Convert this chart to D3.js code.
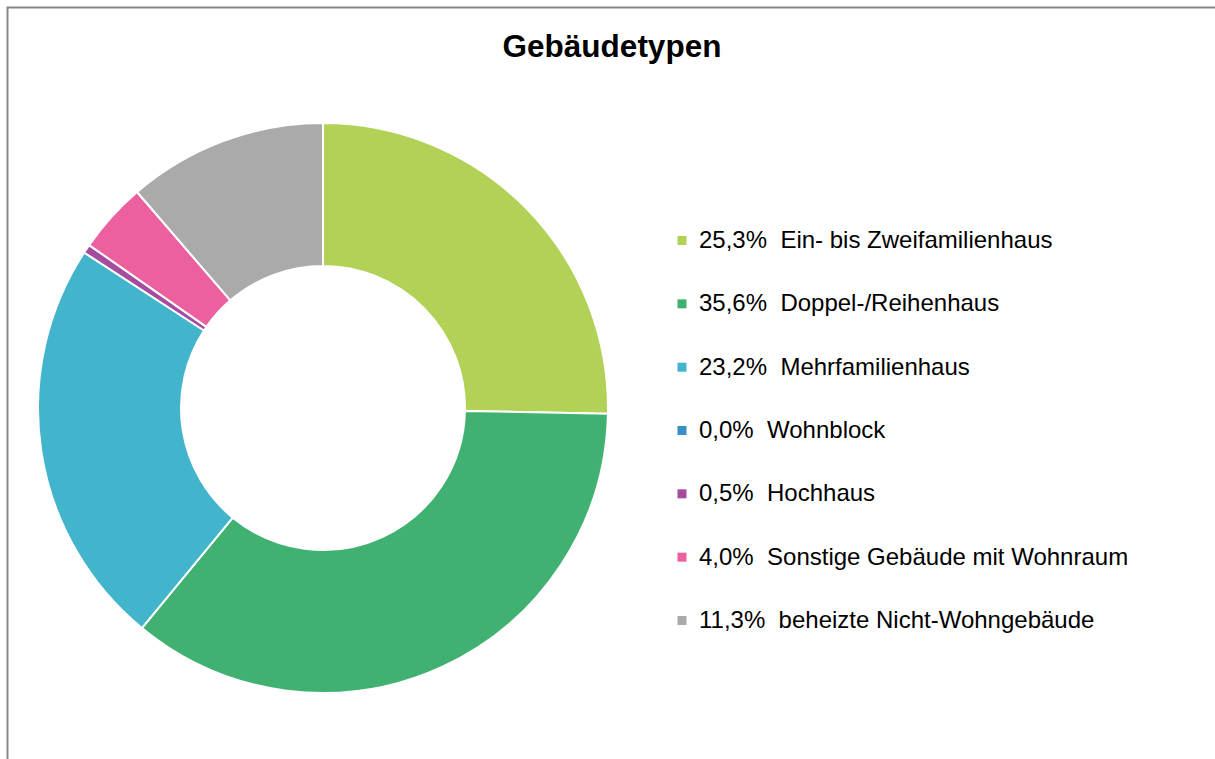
<!DOCTYPE html>
<html>
<head>
<meta charset="utf-8">
<script src="https://cdn.jsdelivr.net/npm/d3@7"></script>
<style>
  html, body { margin: 0; padding: 0; background: #fff; }
  svg { display: block; font-family: "Liberation Sans", Arial, sans-serif; }
</style>
</head>
<body>
<div id="chart"></div>
<script>
var w = 1215;
var h = 759;

// data
var categories = ["Ein- bis Zweifamilienhaus", "Doppel-/Reihenhaus", "Mehrfamilienhaus",
                  "Wohnblock", "Hochhaus", "Sonstige Gebäude mit Wohnraum", "beheizte Nicht-Wohngebäude"];
var shares = [25.3, 35.6, 23.2, 0.0, 0.5, 4.0, 11.3];
var colors = ["#b1d257", "#40b171", "#42b4cc", "#3b8fc9", "#a54c9e", "#ec609f", "#aaaaaa"];
var title = "Gebäudetypen";

var svg = d3.select("#chart")
  .append("svg")
  .attr("width", w)
  .attr("height", h);

// frame (only top and left edges visible in the crop)
svg.append("path")
  .attr("d", "M7.5," + h + "V7.5H" + w)
  .attr("fill", "none")
  .attr("stroke", "#878787")
  .attr("stroke-width", 2);

svg.append("text")
  .attr("x", 612)
  .attr("y", 57)
  .attr("text-anchor", "middle")
  .attr("font-size", 31.5)
  .attr("font-weight", "bold")
  .attr("fill", "#000")
  .text(title);

var cx = 323, cy = 408;
var outerR = 285, innerR = 142;

var pie = d3.pie().sort(null).value(function(d){ return d; });
var arc = d3.arc().innerRadius(innerR).outerRadius(outerR);

var g = svg.append("g").attr("transform", "translate(" + cx + "," + cy + ")");

g.selectAll("path")
  .data(pie(shares).filter(function(d){ return d.value > 0; }))
  .enter()
  .append("path")
  .attr("d", arc)
  .attr("fill", function(d){ return colors[d.index]; })
  .attr("stroke", "#fff")
  .attr("stroke-width", 2)
  .attr("stroke-linejoin", "round");

// legend
var legY = d3.scalePoint()
  .domain(categories)
  .range([240.5, 620.5]);

var fmt = function(v){ return v.toFixed(1).replace(".", ",") + "%"; };

var leg = svg.selectAll("g.leg")
  .data(categories)
  .enter()
  .append("g")
  .attr("class", "leg")
  .attr("transform", function(d){ return "translate(0," + legY(d) + ")"; });

leg.append("rect")
  .attr("x", 677.5)
  .attr("y", -4.5)
  .attr("width", 9)
  .attr("height", 9)
  .attr("fill", function(d, i){ return colors[i]; });

leg.append("text")
  .attr("x", 699)
  .attr("y", 7.5)
  .attr("font-size", 24)
  .attr("fill", "#000")
  .attr("xml:space", "preserve")
  .style("white-space", "pre")
  .text(function(d, i){ return fmt(shares[i]) + "  " + d; });
</script>
</body>
</html>
